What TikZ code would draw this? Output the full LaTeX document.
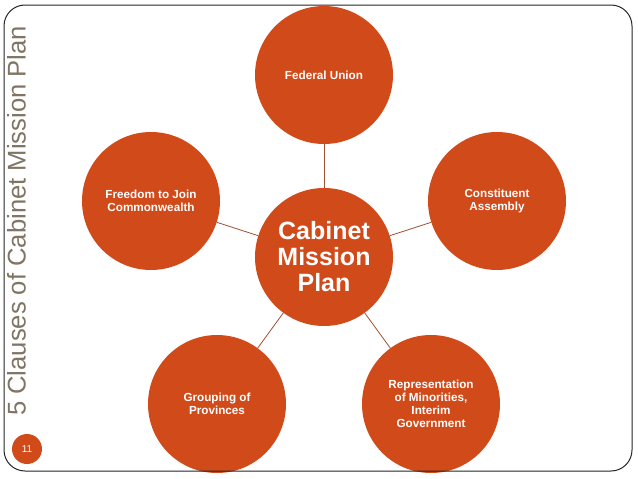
\documentclass[tikz,border=0pt]{standalone}
\usepackage{fontspec}
\setmainfont{Liberation Sans}
\definecolor{circfill}{RGB}{208,74,26}
\definecolor{linkcol}{RGB}{160,80,50}
\definecolor{titlecol}{RGB}{128,116,100}
\begin{document}
\begin{tikzpicture}[x=1pt,y=-1pt,
  clause/.style={circle, fill=circfill, minimum size=138pt, inner sep=0pt,
    text=white, align=center, font=\fontsize{11.7}{13}\selectfont\bfseries},
  hub/.style={clause, font=\fontsize{25}{26}\selectfont\bfseries},
  link/.style={draw=linkcol, line width=0.8pt},
  pagenum/.style={circle, fill=circfill, minimum size=30pt, inner sep=0pt,
    text=white, font=\fontsize{10}{10}\selectfont},
  slidetitle/.style={rotate=90, anchor=base, inner sep=0pt, text=titlecol,
    font=\fontsize{25.6}{25.6}\selectfont}]
\useasboundingbox (0,0) rectangle (638,479);
\fill[white] (0,0) rectangle (638,479);
% clauses
\node[hub] (hub) at (324,257) {Cabinet\\Mission\\Plan};
\node[clause] (fed) at (324,75) {Federal Union};
\node[clause] (con) at (497,201) {Constituent\\Assembly};
\node[clause] (rep) at (431,404) {Representation\\of Minorities,\\Interim\\Government};
\node[clause] (grp) at (217,404) {Grouping of\\Provinces};
\node[clause] (fre) at (151,201) {Freedom to Join\\Commonwealth};
% links
\draw[link] (hub) -- (fed);
\draw[link] (hub) -- (con);
\draw[link] (hub) -- (rep);
\draw[link] (hub) -- (grp);
\draw[link] (hub) -- (fre);
% slide frame
\draw[line width=1pt, draw=black!85, rounded corners=21pt] (4,5) rectangle (632,471);
% title and page number
\node[slidetitle] (title) at (25.5,221) {5 Clauses of Cabinet Mission Plan};
\node[pagenum] (pg) at (27,449) {11};
\end{tikzpicture}
\end{document}
